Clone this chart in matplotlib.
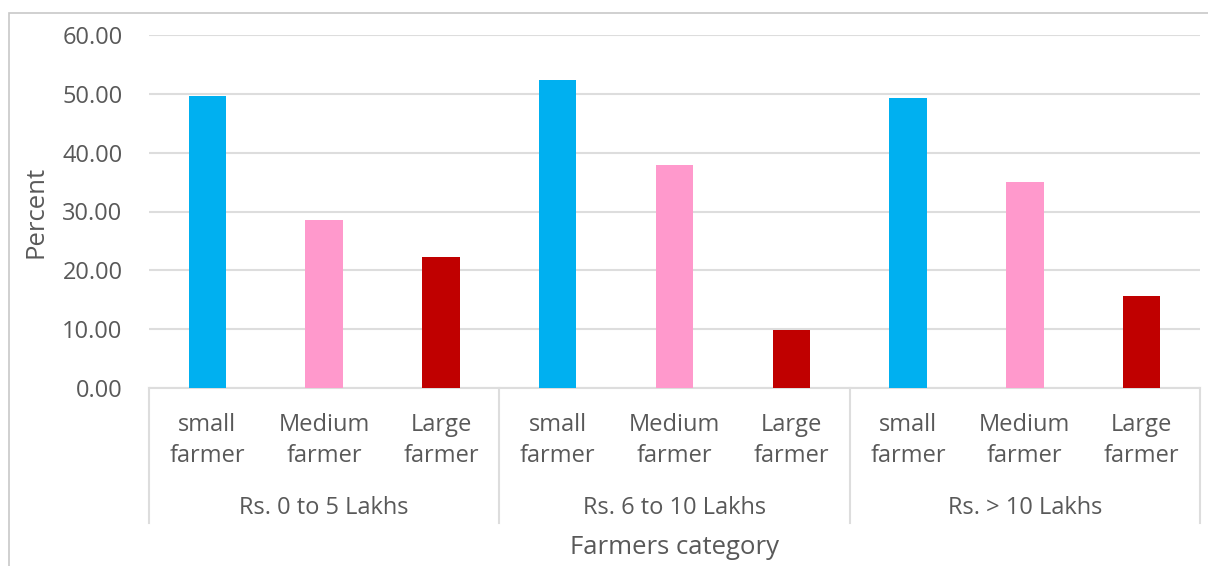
import matplotlib.pyplot as plt
import matplotlib.transforms as m_transforms
from matplotlib.lines import Line2D

# income groups and farmer classes
groups = ["Rs. 0 to 5 Lakhs", "Rs. 6 to 10 Lakhs", "Rs. > 10 Lakhs"]
classes = ["small\nfarmer", "Medium\nfarmer", "Large\nfarmer"]
class_colors = ["#00B0F0", "#FF99CC", "#C00000"]

# percent of farmers in each class, per income group
small_pct = [49.7, 52.3, 49.3]
medium_pct = [28.6, 37.9, 35.0]
large_pct = [22.3, 9.8, 15.6]

yticks = [0, 10, 20, 30, 40, 50, 60]

GRAY = "#595959"
plt.rcParams['font.family'] = ['Open Sans', 'DejaVu Sans']

fig = plt.figure(figsize=(12.08, 5.66), dpi=100)
ax = fig.add_axes([149 / 1208, 1 - 388 / 566, 1051 / 1208, 353 / 566])

# chart frame
fig.patches.append(plt.Rectangle((9 / 1208, -0.05), 1.2, 1 - 13 / 566 + 0.05,
                                 transform=fig.transFigure, fill=False,
                                 edgecolor="#C8C8C8", linewidth=1.2))

series = [small_pct, medium_pct, large_pct]
xs, labels = [], []
for g in range(len(groups)):
    for c in range(len(classes)):
        x = g * len(classes) + c
        ax.bar(x, series[c][g], width=0.32, color=class_colors[c], zorder=3)
        xs.append(x)
        labels.append(classes[c])

ax.set_xlim(-0.5, len(xs) - 0.5)
ax.set_ylim(0, 60)
ax.set_yticks(yticks)
ax.set_yticklabels([f"{v:.2f}" for v in yticks], color=GRAY, fontsize=17)
ax.yaxis.grid(True, color="#DDDDDD", linewidth=1.5, zorder=0)
ax.tick_params(axis="y", length=0, pad=19)
ax.set_xticks(xs)
ax.set_xticklabels(labels, color=GRAY, fontsize=17, linespacing=1.4)
ax.tick_params(axis="x", length=0, pad=18)

for side in ["top", "right", "left"]:
    ax.spines[side].set_visible(False)
ax.spines["bottom"].set_color("#DDDDDD")
ax.spines["bottom"].set_linewidth(1.5)

# group separators and group labels below the axis
trans = m_transforms.blended_transform_factory(ax.transData, ax.transAxes)
for k in range(len(groups) + 1):
    xsep = k * len(classes) - 0.5
    ax.add_line(Line2D([xsep, xsep], [0, -135 / 353], transform=trans,
                       color="#DDDDDD", linewidth=1.5, clip_on=False))
for g, name in enumerate(groups):
    ax.text(g * len(classes) + 1, -120 / 353, name, transform=trans,
            ha="center", va="center", color=GRAY, fontsize=17)

ax.text(0.5, -160 / 353, "Farmers category", transform=ax.transAxes,
        ha="center", va="center", color=GRAY, fontsize=18.5)
ax.set_ylabel("Percent", color=GRAY, fontsize=18.5, labelpad=10)

fig.savefig("out.png", dpi=100)
